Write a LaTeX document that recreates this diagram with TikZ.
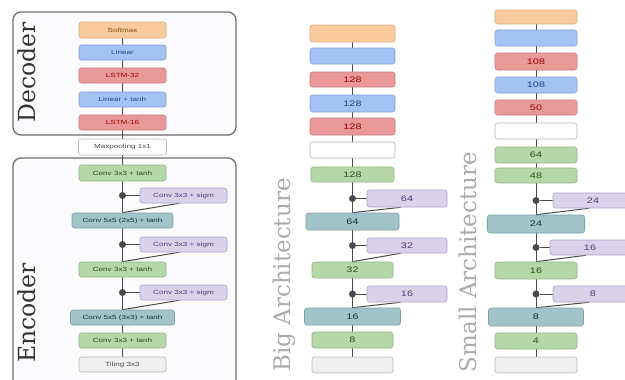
\documentclass[tikz,border=0pt]{standalone}
\usepackage{fontspec}
\setsansfont{Liberation Sans}
\newfontfamily\boxfont[FakeStretch=1.35]{Liberation Sans}
\newfontfamily\titlefont{DejaVu Serif}
\usetikzlibrary{backgrounds,calc}
\definecolor{orF}{HTML}{F9CB9C}\definecolor{orD}{HTML}{D8AC80}\definecolor{orT}{HTML}{7F4A10}
\definecolor{blF}{HTML}{A4C2F4}\definecolor{blD}{HTML}{7F9FD3}\definecolor{blT}{HTML}{1C4587}
\definecolor{rdF}{HTML}{EA9999}\definecolor{rdD}{HTML}{C87A7A}\definecolor{rdT}{HTML}{990000}
\definecolor{gnF}{HTML}{B6D7A8}\definecolor{gnD}{HTML}{90B682}\definecolor{gnT}{HTML}{274E13}
\definecolor{tlF}{HTML}{A2C4C9}\definecolor{tlD}{HTML}{7AA1A7}\definecolor{tlT}{HTML}{0C343D}
\definecolor{ppF}{HTML}{D9D2E9}\definecolor{ppD}{HTML}{ADA2C8}\definecolor{ppT}{HTML}{4A3C78}
\definecolor{wtD}{HTML}{B7B7B7}\definecolor{gyF}{HTML}{EFEFEF}
\definecolor{lineC}{HTML}{4A4A4A}\definecolor{frameC}{HTML}{6E6E6E}\definecolor{frameF}{HTML}{FBFBFD}
\definecolor{titleC}{HTML}{333333}\definecolor{archC}{HTML}{ABABAB}
\begin{document}
\begin{tikzpicture}[x=1pt,y=-1pt,
  bx/.style={draw, rounded corners=2.5pt, inner sep=0pt, line width=0.6pt},
  lbl/.style={font=\boxfont\fontsize{6}{7}\selectfont},
  num/.style={font=\boxfont\fontsize{8}{9}\selectfont},
  wh/.style 2 args={minimum width=#1pt, minimum height=#2pt},
  cOr/.style={fill=orF, draw=orD, text=orT},
  cBl/.style={fill=blF, draw=blD, text=blT},
  cRd/.style={fill=rdF, draw=rdD, text=rdT},
  cGn/.style={fill=gnF, draw=gnD, text=gnT},
  cTl/.style={fill=tlF, draw=tlD, text=tlT},
  cPp/.style={fill=ppF, draw=ppD, text=ppT},
  cWt/.style={fill=white, draw=wtD, text=black!70},
  cGy/.style={fill=gyF, draw=wtD, text=black!70},
  conn/.style={draw=lineC, line width=1pt},
  jdot/.style={circle, fill=lineC, inner sep=0pt, minimum size=7pt},
  frame/.style={draw=frameC, fill=frameF, line width=1.3pt, rounded corners=8pt},
  ttl/.style={rotate=90, text=titleC, font=\titlefont\fontsize{23.5}{26}\selectfont},
  arch/.style={rotate=90, text=archC, font=\titlefont\fontsize{23}{26}\selectfont}]
\useasboundingbox (0,0) rectangle (625,380);
\clip (0,0) rectangle (625,380);
% ---------------- left panel ----------------
\node[bx,lbl,cOr,wh={87}{16}] (L1) at (122.5,30) {Softmax};
\node[bx,lbl,cBl,wh={87}{15}] (L2) at (122.5,52.5) {Linear};
\node[bx,lbl,cRd,wh={87}{15}] (L3) at (122.5,75.5) {LSTM-32};
\node[bx,lbl,cBl,wh={87}{15}] (L4) at (122.5,99.5) {Linear + tanh};
\node[bx,lbl,cRd,wh={87}{15}] (L5) at (122.5,122.5) {LSTM-16};
\node[bx,lbl,cWt,wh={88}{16}] (L6) at (122.5,147) {Maxpooling 1x1};
\node[bx,lbl,cGn,wh={87}{16}] (L7) at (122.5,173) {Conv 3x3 + tanh};
\node[bx,lbl,cPp,wh={87}{15}] (LS1) at (183.5,195.5) {Conv 3x3 + sigm};
\node[bx,lbl,cTl,wh={101}{15}] (L8) at (122.5,220.5) {Conv 5x5 (2x5) + tanh};
\node[bx,lbl,cPp,wh={87}{15}] (LS2) at (183.5,244.5) {Conv 3x3 + sigm};
\node[bx,lbl,cGn,wh={87}{15}] (L9) at (122.5,269.5) {Conv 3x3 + tanh};
\node[bx,lbl,cPp,wh={87}{15}] (LS3) at (183.5,292.5) {Conv 3x3 + sigm};
\node[bx,lbl,cTl,wh={104}{15}] (L10) at (122.5,317.5) {Conv 5x5 (3x3) + tanh};
\node[bx,lbl,cGn,wh={87}{15}] (L11) at (122.5,340.5) {Conv 3x3 + tanh};
\node[bx,lbl,cGy,wh={87}{15}] (L12) at (122.5,364.5) {Tiling 3x3};
\node[jdot] (LD1) at (L7 |- LS1) {};
\node[jdot] (LD2) at (L7 |- LS2) {};
\node[jdot] (LD3) at (L7 |- LS3) {};
\node[ttl] (tDec) at (27,72) {Decoder};
\node[ttl] (tEnc) at (27,313) {Encoder};
% ---------------- big architecture ----------------
\node[bx,num,cOr,wh={85}{17}] (B1) at (352.5,33.5) {};
\node[bx,num,cBl,wh={85}{16}] (B2) at (352.5,56) {};
\node[bx,num,cRd,wh={85}{15}] (B3) at (352.5,79.5) {128};
\node[bx,num,cBl,wh={85}{17}] (B4) at (352.5,103.5) {128};
\node[bx,num,cRd,wh={85}{17}] (B5) at (352.5,126.5) {128};
\node[bx,num,cWt,wh={85}{16}] (B6) at (352.5,150) {};
\node[bx,num,cGn,wh={83}{15}] (B7) at (352.5,174.5) {128};
\node[bx,num,cPp,wh={80}{17}] (BS1) at (407,198.5) {64};
\node[bx,num,cTl,wh={93}{17}] (B8) at (352.5,221.5) {64};
\node[bx,num,cPp,wh={80}{15}] (BS2) at (407,245.5) {32};
\node[bx,num,cGn,wh={81}{16}] (B9) at (352.5,270) {32};
\node[bx,num,cPp,wh={80}{16}] (BS3) at (407,294) {16};
\node[bx,num,cTl,wh={96}{17}] (B10) at (352.5,316.5) {16};
\node[bx,num,cGn,wh={81}{16}] (B11) at (352.5,340) {8};
\node[bx,num,cGy,wh={81}{16}] (B12) at (352.5,365) {};
\node[jdot] (BD1) at (B7 |- BS1) {};
\node[jdot] (BD2) at (B7 |- BS2) {};
\node[jdot] (BD3) at (B7 |- BS3) {};
\node[arch] (tBig) at (284,275) {Big Architecture};
% ---------------- small architecture ----------------
\node[bx,num,cOr,wh={82}{14}] (S1) at (536,17) {};
\node[bx,num,cBl,wh={82}{16}] (S2) at (536,38) {};
\node[bx,num,cRd,wh={82}{17}] (S3) at (536,61.5) {108};
\node[bx,num,cBl,wh={82}{16}] (S4) at (536,85) {108};
\node[bx,num,cRd,wh={82}{15}] (S5) at (536,107.5) {50};
\node[bx,num,cWt,wh={82}{16}] (S6) at (536,131) {};
\node[bx,num,cGn,wh={82}{16}] (S7) at (536,155) {64};
\node[bx,num,cGn,wh={82}{15}] (S8) at (536,175.5) {48};
\node[bx,num,cPp,wh={80}{15}] (SS1) at (593,200.5) {24};
\node[bx,num,cTl,wh={97}{18}] (S9) at (536,224) {24};
\node[bx,num,cPp,wh={80}{15}] (SS2) at (590,247.5) {16};
\node[bx,num,cGn,wh={82}{17}] (S10) at (536,270.5) {16};
\node[bx,num,cPp,wh={80}{16}] (SS3) at (593,294) {8};
\node[bx,num,cTl,wh={95}{18}] (S11) at (536,317) {8};
\node[bx,num,cGn,wh={82}{16}] (S12) at (536,341) {4};
\node[bx,num,cGy,wh={82}{16}] (S13) at (536,365) {};
\node[jdot] (SD1) at (S8 |- SS1) {};
\node[jdot] (SD2) at (S8 |- SS2) {};
\node[jdot] (SD3) at (S8 |- SS3) {};
\node[arch] (tSmall) at (468,262) {Small Architecture};
% ---------------- background: frames and connectors ----------------
\begin{scope}[on background layer]
  \draw[frame] (13,12) rectangle (236,135);
  \draw[frame] (13,158) rectangle (236,390);
  \foreach \a/\b in {L1/L2,L2/L3,L3/L4,L4/L5,L5/L6,L6/L7,L7/L8,L8/L9,L9/L10,L10/L11,L11/L12}
    \draw[conn] (\a) -- (\b);
  \foreach \d/\s/\n in {LD1/LS1/L8,LD2/LS2/L9,LD3/LS3/L10}{
    \draw[conn] (\d) -- (\s);
    \draw[conn] ($(\s.south west)!0.45!(\s.south east)$) -- (\n.north);}
  \foreach \a/\b in {B1/B2,B2/B3,B3/B4,B4/B5,B5/B6,B6/B7,B7/B8,B8/B9,B9/B10,B10/B11,B11/B12}
    \draw[conn] (\a) -- (\b);
  \foreach \d/\s/\n in {BD1/BS1/B8,BD2/BS2/B9,BD3/BS3/B10}{
    \draw[conn] (\d) -- (\s);
    \draw[conn] ($(\s.south west)!0.42!(\s.south east)$) -- (\n.north);}
  \foreach \a/\b in {S1/S2,S2/S3,S3/S4,S4/S5,S5/S6,S6/S7,S7/S8,S8/S9,S9/S10,S10/S11,S11/S12,S12/S13}
    \draw[conn] (\a) -- (\b);
  \foreach \d/\s/\n in {SD1/SS1/S9,SD2/SS2/S10,SD3/SS3/S11}{
    \draw[conn] (\d) -- (\s);
    \draw[conn] ($(\s.south west)!0.45!(\s.south east)$) -- (\n.north);}
\end{scope}
\end{tikzpicture}
\end{document}
